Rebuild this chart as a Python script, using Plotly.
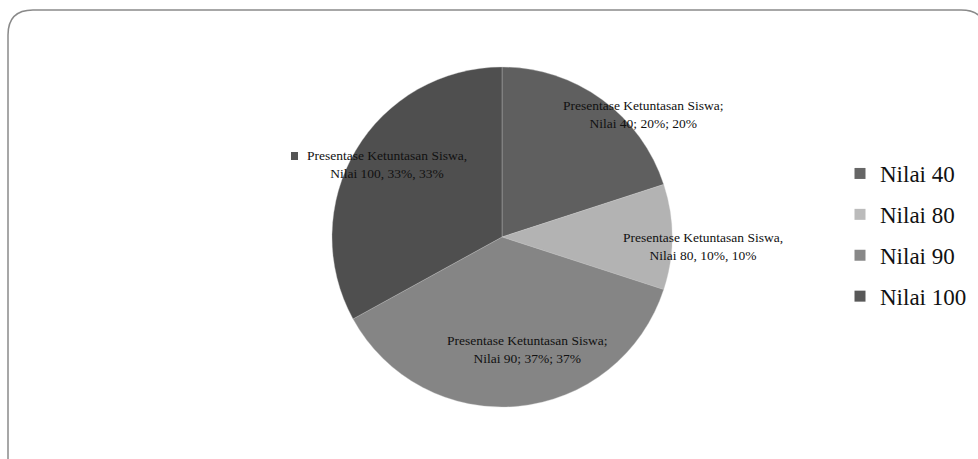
import plotly.graph_objects as go

# Data
categories = ["Nilai 40", "Nilai 80", "Nilai 90", "Nilai 100"]
values = [20, 10, 37, 33]
series_name = "Presentase Ketuntasan Siswa"
slice_colors = ["#5f5f5f", "#b3b3b3", "#858585", "#4f4f4f"]
legend_colors = ["#666666", "#bbbbbb", "#888888", "#585858"]
separators = [";", ",", ";", ","]

W, H = 978, 459
FONT = "Liberation Serif, Times New Roman, serif"


def px(x, y):
    return x / W, 1 - y / H


fig = go.Figure()

fig.add_trace(go.Pie(
    labels=categories,
    values=values,
    sort=False,
    direction="clockwise",
    rotation=0,
    marker=dict(colors=slice_colors, line=dict(color="rgba(200,200,200,0.35)", width=1)),
    textinfo="none",
    hoverinfo="label+percent",
    showlegend=False,
    domain=dict(x=[332 / W, 672 / W], y=[1 - 407 / H, 1 - 67 / H]),
))

# Legend entries as square markers, one group per category for spacing
for name, col in zip(categories, legend_colors):
    fig.add_trace(go.Scatter(
        x=[None], y=[None], mode="markers", name=name, legendgroup=name,
        marker=dict(symbol="square", size=11, color=col),
    ))

# Data labels
label_pos = [(643, 115), (703, 246), (527, 349), (387, 164)]
for cat, val, sep, (lx, ly) in zip(categories, values, separators, label_pos):
    text = f"{series_name}{sep}<br>{cat}{sep} {val}%{sep} {val}%"
    ax_, ay_ = px(lx, ly)
    fig.add_annotation(
        x=ax_, y=ay_, xref="paper", yref="paper", text=text, showarrow=False,
        font=dict(family=FONT, size=13.5, color="#111111"),
        align="center", xanchor="center", yanchor="middle",
    )

# Small key square next to the last label
fig.add_shape(type="rect", xref="paper", yref="paper",
              x0=291 / W, x1=298 / W, y0=1 - 160 / H, y1=1 - 152 / H,
              fillcolor="#555555", line=dict(width=0))

# Rounded chart frame
r = 25
x0, y0, x1, y1 = 8, 10, 986, 470
path = (f"M {x0},{y1} L {x0},{y0 + r} Q {x0},{y0} {x0 + r},{y0} "
        f"L {x1 - r},{y0} Q {x1},{y0} {x1},{y0 + r} L {x1},{y1}")


def pp(s):
    # pixel path -> paper coordinates
    out = []
    for tok in s.split():
        if "," in tok:
            a, b = tok.split(",")
            out.append(f"{float(a) / W:.5f},{1 - float(b) / H:.5f}")
        else:
            out.append(tok)
    return " ".join(out)


fig.add_shape(type="path", xref="paper", yref="paper", path=pp(path),
              line=dict(color="#8a8a8a", width=1.5))

fig.update_layout(
    width=W, height=H,
    margin=dict(l=0, r=0, t=0, b=0),
    paper_bgcolor="white", plot_bgcolor="white",
    xaxis=dict(visible=False), yaxis=dict(visible=False),
    font=dict(family=FONT),
    legend=dict(
        x=840 / W, y=1 - 152 / H, xanchor="left", yanchor="top",
        font=dict(family=FONT, size=23, color="#111111"),
        tracegroupgap=8, itemwidth=30, bgcolor="rgba(0,0,0,0)",
    ),
)

fig.write_html("out.html")
